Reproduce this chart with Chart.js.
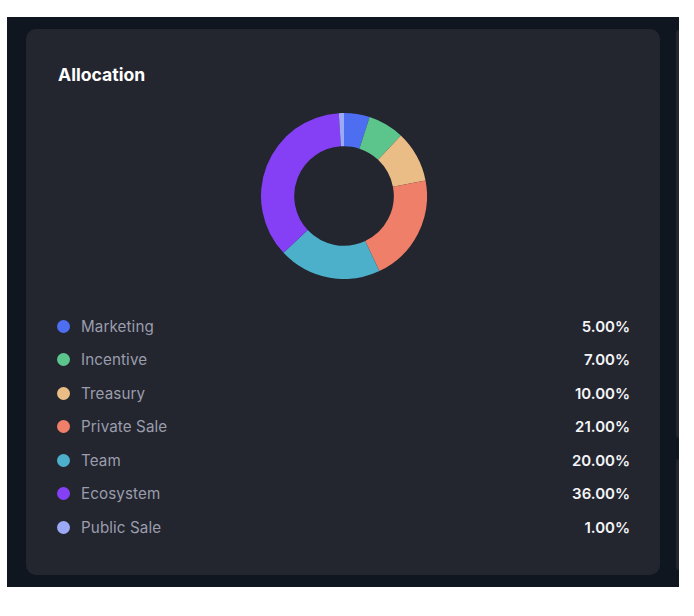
<!DOCTYPE html>
<html>
<head>
<meta charset="utf-8">
<script src="https://cdn.jsdelivr.net/npm/chart.js@4.4.1/dist/chart.umd.min.js"></script>
<style>
  html, body { margin: 0; padding: 0; background: #ffffff; }
  body { width: 694px; height: 616px; position: relative; overflow: hidden; font-family: Inter, "Noto Sans", sans-serif; }
  .frame { position: absolute; left: 7px; top: 17px; width: 672px; height: 570px; background: #10161f; }
  .side { position: absolute; left: 676px; width: 3px; background: #23252f; border-radius: 3px 0 0 3px; }
  .card { position: absolute; left: 26px; top: 29px; width: 634px; height: 546px; background: #23252f; border-radius: 10px; }
  .title { position: absolute; left: 32px; top: 34.5px; color: #ffffff; font-weight: 700; font-size: 17.6px; line-height: 22px; }
  .chart-box { position: absolute; left: 235px; top: 84px; width: 166px; height: 166px; }
  .legend { position: absolute; left: 31px; top: 280.5px; width: 573px; }
  .row { position: relative; height: 33.5px; display: flex; align-items: center; }
  .dot { width: 13px; height: 13px; border-radius: 50%; margin-right: 11px; margin-left: 0; }
  .label { color: #9a9dac; font-size: 15.2px; letter-spacing: 0.1px; }
  .value { position: absolute; right: 0; color: #f4f5f7; font-size: 15px; font-weight: 600; }
</style>
</head>
<body>
<div class="frame"></div>
<div class="side" style="top:30px;height:408px;"></div>
<div class="side" style="top:459px;height:111px;"></div>
<div class="card">
  <div class="title">Allocation</div>
  <div class="chart-box"><canvas id="alloc" width="166" height="166"></canvas></div>
  <div class="legend" id="legend"></div>
</div>
<script>
// Token allocation shares (percent)
const categories = ['Marketing', 'Incentive', 'Treasury', 'Private Sale', 'Team', 'Ecosystem', 'Public Sale'];
const shares = [5, 7, 10, 21, 20, 36, 1];
const colors = ['#4e6ef2', '#5cc58c', '#ebbd86', '#ef7f68', '#4db0cb', '#8540f5', '#9ba9f7'];

new Chart(document.getElementById('alloc'), {
  type: 'doughnut',
  data: {
    labels: categories,
    datasets: [{
      data: shares,
      backgroundColor: colors,
      borderWidth: 0,
      hoverOffset: 0
    }]
  },
  options: {
    responsive: false,
    animation: false,
    cutout: '60%',
    layout: { padding: 0 },
    plugins: {
      legend: { display: false },
      tooltip: { enabled: false }
    }
  }
});

// Legend rows with the share of each category
const legend = document.getElementById('legend');
categories.forEach((name, i) => {
  const row = document.createElement('div');
  row.className = 'row';
  row.innerHTML =
    '<span class="dot" style="background:' + colors[i] + '"></span>' +
    '<span class="label">' + name + '</span>' +
    '<span class="value">' + shares[i].toFixed(2) + '%</span>';
  legend.appendChild(row);
});
</script>
</body>
</html>
